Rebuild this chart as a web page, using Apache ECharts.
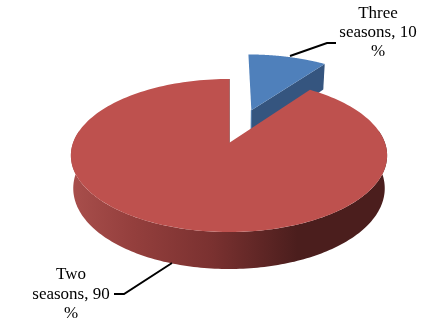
<!DOCTYPE html>
<html>
<head>
<meta charset="utf-8">
<style>html,body{margin:0;padding:0;background:#fff}#c{width:434px;height:330px}</style>
<script src="https://cdn.jsdelivr.net/npm/echarts@6/dist/echarts.min.js"></script>
</head>
<body>
<div id="c"></div>
<script>
var categories = ['Three seasons', 'Two seasons'];
var seriesValues = [10, 90];
var labelLines = [['Three', 'seasons, 10', '%'], ['Two', 'seasons, 90', '%']];

var chart = echarts.init(document.getElementById('c'), null, {renderer: 'canvas'});
var total = seriesValues[0] + seriesValues[1];

// perspective projection of the unit disc onto the page
function proj(u, v, depth) {
  var w = 1 + 0.1634 * v;
  var x = 229 + 156 * u / w;
  var y = (143 - 51.1 * v) / w;
  if (depth) {
    y += 32 - 5 * v;
    x = 229 + (x - 229) * 0.985;
  }
  return [x, y];
}
function rad(d) { return d * Math.PI / 180; }
function rim(a, ox, oy, depth) {
  return proj(Math.sin(rad(a)) + ox, Math.cos(rad(a)) + oy, depth);
}
function arc(a0, a1, ox, oy, depth) {
  var pts = [], n = 180;
  for (var i = 0; i <= n; i++) pts.push(rim(a0 + (a1 - a0) * i / n, ox, oy, depth));
  return pts;
}
function poly(points, style, z) {
  return {type: 'polygon', z2: z, shape: {points: points}, style: style};
}
function line(points, color, width, z) {
  return {type: 'polyline', z2: z, shape: {points: points},
    style: {stroke: color, lineWidth: width, fill: null}};
}
function txt(lines, x, y0, dy) {
  return lines.map(function (s, i) {
    return {type: 'text', z2: 20, style: {
      text: s, x: x, y: y0 + i * dy, align: 'center', verticalAlign: 'middle',
      font: '17px "Liberation Serif"', fill: '#000'
    }};
  });
}

function renderItem(params, api) {
  var i = params.dataIndex;
  var end = api.value(0) / total * 360;
  var children = [];
  if (i === 0) {
    var mid = end / 2, d = 0.5;
    var ox = Math.sin(rad(mid)) * d, oy = Math.cos(rad(mid)) * d;
    var apex = proj(ox, oy), apexB = proj(ox, oy, true);
    children.push(poly([apex, rim(end, ox, oy), rim(end, ox, oy, true), apexB],
      {fill: '#35557f'}, 1));
    children.push(poly([apex].concat(arc(0, end, ox, oy)), {fill: '#4f80bb'}, 2));
    children.push(line([apex, apexB], '#4a76ab', 1, 3));
    children.push(line([[290, 56], [327, 43], [336, 43]], '#000', 2, 10));
    children = children.concat(txt(labelLines[0], 378, 14, 19));
  } else {
    var start = seriesValues[0] / total * 360;
    var top = arc(80, 280, 0, 0);
    var bottom = arc(80, 280, 0, 0, true).reverse();
    var fill = new echarts.graphic.LinearGradient(70, 0, 386, 0, [
      {offset: 0, color: '#a94f4c'},
      {offset: 0.2, color: '#943f3d'},
      {offset: 0.45, color: '#7a3130'},
      {offset: 0.72, color: '#4b1e1d'},
      {offset: 1, color: '#4b1e1d'}
    ], true);
    children.push(poly(top.concat(bottom), {fill: fill}, 4));
    children.push(line([proj(0, 0), rim(360, 0, 0)], '#8a3a38', 1.5, 5));
    children.push(poly([proj(0, 0)].concat(arc(start, 360, 0, 0)), {fill: '#be514e'}, 6));
    children.push(line([[172, 263], [124, 294], [114, 294]], '#000', 2, 10));
    children = children.concat(txt(labelLines[1], 71, 275, 19.5));
  }
  return {type: 'group', children: children};
}

chart.setOption({
  animation: false,
  backgroundColor: '#fff',
  series: [{
    type: 'custom',
    coordinateSystem: 'none',
    renderItem: renderItem,
    data: seriesValues.map(function (v, i) { return {name: categories[i], value: [v]}; })
  }]
});
</script>
</body>
</html>
